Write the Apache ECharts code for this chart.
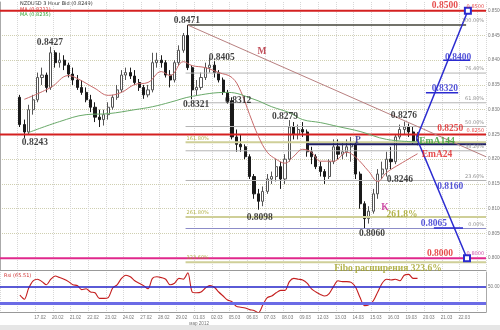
<!DOCTYPE html>
<html>
<head>
<meta charset="utf-8">
<script src="https://cdn.jsdelivr.net/npm/echarts@6/dist/echarts.min.js"></script>
<style>
html, body { margin: 0; padding: 0; background: #fff; }
#chart { width: 500px; height: 330px; }
</style>
</head>
<body>
<div id="chart"></div>
<script>
// trading days on the axis, 4 bars (6 hours) each
var days = ['15.02', '16.02', '17.02', '20.02', '21.02', '22.02', '23.02', '24.02', '27.02', '28.02',
  '29.02', '01.03', '02.03', '05.03', '06.03', '07.03', '08.03', '09.03', '12.03', '13.03',
  '14.03', '15.03', '16.03', '19.03', '20.03', '21.03', '22.03', '23.03'];
var barCount = 110;
var firstBar = 4;

// NZD/USD bars
var open = [
  0.8325, 0.8270, 0.8255, 0.8300, 0.8320, 0.8365, 0.8370, 0.8345, 0.8415, 0.8395,
  0.8400, 0.8390, 0.8372, 0.8360, 0.8345, 0.8335, 0.8320, 0.8305, 0.8285, 0.8280,
  0.8290, 0.8305, 0.8325, 0.8340, 0.8370, 0.8375, 0.8368, 0.8355, 0.8345, 0.8330,
  0.8340, 0.8395, 0.8400, 0.8395, 0.8370, 0.8360, 0.8395, 0.8420, 0.8450, 0.8385,
  0.8340, 0.8345, 0.8365, 0.8385, 0.8390, 0.8375, 0.8360, 0.8335, 0.8318, 0.8245,
  0.8230, 0.8225, 0.8205, 0.8165, 0.8130, 0.8115, 0.8135, 0.8160, 0.8165, 0.8185,
  0.8160, 0.8200, 0.8265, 0.8250, 0.8260, 0.8255, 0.8215, 0.8205, 0.8185, 0.8175,
  0.8165, 0.8195, 0.8225, 0.8210, 0.8215, 0.8225, 0.8230, 0.8170, 0.8110, 0.8080,
  0.8095, 0.8130, 0.8170, 0.8180, 0.8200, 0.8195, 0.8245, 0.8260, 0.8265, 0.8255, 0.8235];
var high = [
  0.8330, 0.8280, 0.8310, 0.8330, 0.8375, 0.8385, 0.8375, 0.8427, 0.8420, 0.8415,
  0.8410, 0.8395, 0.8385, 0.8370, 0.8360, 0.8345, 0.8330, 0.8315, 0.8300, 0.8300,
  0.8315, 0.8330, 0.8350, 0.8380, 0.8385, 0.8385, 0.8380, 0.8362, 0.8350, 0.8350,
  0.8415, 0.8415, 0.8410, 0.8400, 0.8380, 0.8400, 0.8430, 0.8455, 0.8471, 0.8390,
  0.8360, 0.8375, 0.8395, 0.8405, 0.8398, 0.8380, 0.8365, 0.8340, 0.8325, 0.8260,
  0.8250, 0.8230, 0.8210, 0.8170, 0.8140, 0.8145, 0.8170, 0.8175, 0.8200, 0.8195,
  0.8210, 0.8279, 0.8275, 0.8270, 0.8275, 0.8260, 0.8225, 0.8210, 0.8195, 0.8180,
  0.8200, 0.8240, 0.8240, 0.8235, 0.8240, 0.8245, 0.8235, 0.8175, 0.8115, 0.8105,
  0.8140, 0.8180, 0.8195, 0.8215, 0.8225, 0.8250, 0.8270, 0.8276, 0.8272, 0.8265, 0.8255];
var low = [
  0.8265, 0.8243, 0.8250, 0.8290, 0.8315, 0.8350, 0.8335, 0.8340, 0.8385, 0.8385,
  0.8380, 0.8365, 0.8350, 0.8340, 0.8330, 0.8315, 0.8295, 0.8275, 0.8265, 0.8268,
  0.8280, 0.8300, 0.8320, 0.8335, 0.8360, 0.8362, 0.8350, 0.8338, 0.8322, 0.8325,
  0.8335, 0.8385, 0.8385, 0.8365, 0.8345, 0.8355, 0.8390, 0.8415, 0.8380, 0.8321,
  0.8328, 0.8340, 0.8360, 0.8375, 0.8365, 0.8355, 0.8330, 0.8312, 0.8240, 0.8215,
  0.8215, 0.8200, 0.8160, 0.8120, 0.8098, 0.8105, 0.8130, 0.8150, 0.8155, 0.8140,
  0.8150, 0.8195, 0.8240, 0.8240, 0.8245, 0.8205, 0.8190, 0.8180, 0.8165, 0.8150,
  0.8160, 0.8190, 0.8200, 0.8200, 0.8205, 0.8195, 0.8160, 0.8100, 0.8060, 0.8070,
  0.8090, 0.8120, 0.8160, 0.8165, 0.8180, 0.8190, 0.8240, 0.8250, 0.8245, 0.8230, 0.8228];
var close = [
  0.8270, 0.8255, 0.8300, 0.8320, 0.8365, 0.8370, 0.8345, 0.8415, 0.8395, 0.8400,
  0.8390, 0.8372, 0.8360, 0.8345, 0.8335, 0.8320, 0.8305, 0.8285, 0.8280, 0.8290,
  0.8305, 0.8325, 0.8340, 0.8370, 0.8375, 0.8368, 0.8355, 0.8345, 0.8330, 0.8340,
  0.8395, 0.8400, 0.8395, 0.8370, 0.8360, 0.8395, 0.8420, 0.8450, 0.8385, 0.8340,
  0.8345, 0.8365, 0.8385, 0.8390, 0.8375, 0.8360, 0.8335, 0.8318, 0.8245, 0.8230,
  0.8225, 0.8205, 0.8165, 0.8130, 0.8115, 0.8135, 0.8160, 0.8165, 0.8185, 0.8160,
  0.8200, 0.8265, 0.8250, 0.8260, 0.8255, 0.8215, 0.8205, 0.8185, 0.8175, 0.8165,
  0.8195, 0.8225, 0.8210, 0.8215, 0.8225, 0.8230, 0.8170, 0.8110, 0.8080, 0.8095,
  0.8130, 0.8170, 0.8180, 0.8200, 0.8195, 0.8245, 0.8260, 0.8265, 0.8255, 0.8235, 0.8249];

// moving averages: [bar, value]
var ema24 = [[5, 0.8321], [11, 0.8345], [15, 0.8369], [17, 0.8363], [21, 0.8343], [24, 0.8329],
  [27, 0.8335], [30, 0.8351], [33, 0.8355], [36, 0.8377], [38, 0.8369], [41, 0.8397], [43, 0.8389],
  [46, 0.8385], [49, 0.8375], [52, 0.8365], [54, 0.8337], [56, 0.8290], [58, 0.8246], [60, 0.8214],
  [62, 0.8200], [64, 0.8192], [66, 0.8206], [68, 0.8220], [70, 0.8214], [72, 0.8196], [75, 0.8196],
  [78, 0.8214], [80, 0.8204], [83, 0.8175], [85, 0.8155], [87, 0.8173], [90, 0.8190], [94, 0.8211]];
var ema144 = [[6, 0.8254], [13, 0.8276], [19, 0.8290], [24, 0.8292], [30, 0.8300], [34, 0.8306],
  [38, 0.8315], [43, 0.8327], [51, 0.8335], [57, 0.8321], [61, 0.8306], [65, 0.8294], [68, 0.8280],
  [72, 0.8274], [76, 0.8266], [81, 0.8256], [87, 0.8240], [94, 0.8235]];

// RSI, one value per bar
var rsi = [
  40, 35, 49, 58, 60, 57, 53, 60, 64, 62, 60, 57, 53, 52, 47, 48, 44, 43, 36, 36,
  37, 49, 53, 61, 65, 63, 58, 55, 52, 48, 61, 63, 62, 60, 53, 55, 61, 60, 68, 44,
  43, 44, 49, 52, 50, 44, 39, 34, 32, 26, 25, 24, 22, 21, 18, 28, 37, 39, 43, 46,
  46, 57, 61, 60, 59, 55, 48, 44, 41, 39, 42, 51, 58, 57, 57, 56, 50, 37, 27, 28,
  33, 44, 55, 60, 59, 60, 58, 65, 66, 61, 61];

var priceTicks = [0.8000, 0.8050, 0.8100, 0.8150, 0.8200, 0.8250, 0.8300, 0.8350, 0.8400, 0.8450, 0.8500];
var rsiTicks = [50];

// horizontal levels: [from bar, to bar, price, kind]
var levels = [
  [0, 110, 0.8500, 'red'], [0, 110, 0.8250, 'red'], [0, 110, 0.8000, 'magenta'],
  [42.5, 105.5, 0.8471, 'dark'],
  [42, 110, 0.8374, 'fib'], [42, 110, 0.8314, 'fib'], [42, 110, 0.8266, 'fib'],
  [42, 110, 0.8217, 'fib'], [42, 110, 0.8157, 'fib'], [42, 110, 0.8060, 'fib0'],
  [42, 110, 0.8234, 'ext'], [42, 110, 0.8083, 'ext'], [42, 110, 0.7992, 'ext'],
  [69.5, 110, 0.8230, 'navy'],
  [100.3, 106.4, 0.8400, 'blue'], [96.4, 103.7, 0.8334, 'blue'], [98.2, 104.8, 0.8061, 'blue']
];
// sloped lines: [bar0, price0, bar1, price1, kind, end marker]
var trends = [
  [42.5, 0.8471, 110, 0.8205, 'rose', false],
  [94.3, 0.8243, 105.9, 0.8500, 'blue', true],
  [94.3, 0.8243, 105.7, 0.8000, 'blue', true]
];
// chart notes: [bar, price, text, kind]
var notes = [
  [11.3, 0.8435, '0.8427', 'black'], [7.9, 0.8233, '0.8243', 'black'],
  [42.3, 0.8481, '0.8471', 'black'], [50.2, 0.8406, '0.8405', 'black'],
  [44.4, 0.8311, '0.8321', 'black'], [53.9, 0.8318, '0.8312', 'black'],
  [59.3, 0.8417, 'M', 'darkred'], [64.5, 0.8287, '0.8279', 'black'],
  [58.8, 0.8083, '0.8098', 'black'], [81.0, 0.8237, 'P', 'navy'],
  [91.4, 0.8289, '0.8276', 'black'], [90.5, 0.8158, '0.8246', 'black'],
  [87.1, 0.8103, 'K', 'magenta'], [91.0, 0.8089, '261.8%', 'olive'],
  [84.2, 0.8049, '0.8060', 'black'], [100.7, 0.8510, '0.8500', 'red'],
  [103.7, 0.8406, '0.8400', 'blue'], [100.7, 0.8342, '0.8320', 'blue'],
  [101.9, 0.8261, '0.8250', 'red'], [98.9, 0.8235, 'EmA144', 'green'],
  [98.9, 0.8210, 'EmA24', 'red'], [101.9, 0.8144, '0.8160', 'blue'],
  [98.2, 0.8069, '0.8065', 'blue'], [99.6, 0.8010, '0.8000', 'red'],
  [87.8, 0.7980, 'Fibo расширения 323.6%', 'olive']
];
// small tags sitting on the level lines: [bar, price, text, side, kind]
var tags = [
  [109.8, 0.8471, '100.00%', 'end', 'gray'], [109.8, 0.8374, '76.40%', 'end', 'gray'],
  [109.8, 0.8314, '61.80%', 'end', 'gray'], [109.8, 0.8266, '50.00%', 'end', 'gray'],
  [109.8, 0.8217, '38.20%', 'end', 'gray'], [109.8, 0.8157, '23.60%', 'end', 'gray'],
  [109.8, 0.8060, '0.00%', 'end', 'gray'],
  [42, 0.8234, '161.80%', 'start', 'olive'], [42, 0.8083, '261.80%', 'start', 'olive'],
  [42, 0.7992, '323.60%', 'start', 'olive'],
  [109.8, 0.8500, '0.8500', 'end', 'red'], [109.8, 0.8250, '0.8250', 'end', 'red'],
  [109.8, 0.8000, '0.8000', 'end', 'magenta']
];

var lineStyles = {
  red: { color: '#d42020', width: 2 },
  magenta: { color: '#e0288c', width: 2 },
  dark: { color: '#45453a', width: 1.5 },
  fib: { color: '#b4b4b4', width: 1 },
  fib0: { color: '#8c8cc8', width: 1.2 },
  ext: { color: '#cfcf98', width: 2 },
  navy: { color: '#1e1e62', width: 2 },
  blue: { color: '#2a2ad0', width: 1.5 },
  rose: { color: '#b88080', width: 1 }
};
var textColors = {
  black: '#111', darkred: '#b02030', navy: '#202080', magenta: '#c02090', olive: '#a0a020',
  red: '#e02020', blue: '#2a2ad0', green: '#2f9a2f', gray: '#777'
};

var cats = [];
days.forEach(function (d) {
  [0, 6, 12, 18].forEach(function (h) { cats.push(d + ' ' + h); });
});
cats = cats.slice(0, barCount);

var candleData = [], rsiData = [];
for (var i = 0; i < barCount; i++) {
  var k = i - firstBar;
  if (k >= 0 && k < open.length) {
    candleData.push([open[k], close[k], low[k], high[k]]);
    rsiData.push(rsi[k]);
  } else {
    candleData.push('-');
    rsiData.push('-');
  }
}
function dayStart(idx) { return idx % 4 === 0; }
function dayLabel(idx) { return idx % 4 === 0 && idx >= 8 && idx <= 104; }

var series = [{
  type: 'candlestick', xAxisIndex: 0, yAxisIndex: 0, data: candleData, barWidth: 2.6, z: 2,
  itemStyle: { color: '#fff', color0: '#1a1a1a', borderColor: '#555', borderColor0: '#1a1a1a', borderWidth: 1 }
}];
levels.forEach(function (l) {
  series.push({
    type: 'line', xAxisIndex: 1, yAxisIndex: 0, symbol: 'none', silent: true, z: 3,
    data: [[l[0], l[2]], [l[1], l[2]]], lineStyle: lineStyles[l[3]]
  });
});
trends.forEach(function (t) {
  series.push({
    type: 'line', xAxisIndex: 1, yAxisIndex: 0, silent: true, z: 4, showSymbol: true,
    data: [{ value: [t[0], t[1]], symbol: 'none' },
      { value: [t[2], t[3]], symbol: t[5] ? 'rect' : 'none', symbolSize: 6 }],
    lineStyle: lineStyles[t[4]],
    itemStyle: { color: '#fff', borderColor: lineStyles[t[4]].color, borderWidth: 2 }
  });
});
[[ema24, '#c86a6a'], [ema144, '#6aaa6a']].forEach(function (m) {
  series.push({
    type: 'line', xAxisIndex: 1, yAxisIndex: 0, symbol: 'none', smooth: 0.4, silent: true, z: 3,
    data: m[0].map(function (p) { return [p[0] + 0.5, p[1]]; }),
    lineStyle: { color: m[1], width: 1 }
  });
});
series.push({
  type: 'scatter', xAxisIndex: 1, yAxisIndex: 0, symbolSize: 0, silent: true, z: 6,
  data: notes.map(function (n) {
    return { name: n[2], value: [n[0], n[1]], label: { color: textColors[n[3]] } };
  }),
  label: {
    show: true, position: 'inside', formatter: '{b}',
    fontFamily: 'Liberation Serif', fontWeight: 'bold', fontSize: 9.5
  }
});
series.push({
  type: 'scatter', xAxisIndex: 1, yAxisIndex: 0, symbolSize: 0, silent: true, z: 6,
  data: tags.map(function (t) {
    return {
      name: t[2], value: [t[0], t[1]],
      label: { color: textColors[t[4]], position: t[3] === 'end' ? 'left' : 'right' }
    };
  }),
  label: {
    show: true, formatter: '{b}', distance: 1, offset: [0, -4],
    fontFamily: 'DejaVu Sans', fontSize: 5
  }
});
series.push({
  type: 'line', xAxisIndex: 2, yAxisIndex: 1, data: rsiData, symbol: 'none', smooth: 0.3,
  lineStyle: { color: '#c41e1e', width: 1.1 }, silent: true, z: 4,
  markLine: {
    silent: true, symbol: 'none', label: { show: false },
    data: [
      { yAxis: 50, lineStyle: { color: '#2323c8', width: 1.5, type: 'solid' } },
      { yAxis: 30, lineStyle: { color: '#6b6be6', width: 3, type: 'solid' } }
    ]
  }
});

var axisFont = { fontFamily: 'Liberation Sans', fontSize: 4.6, color: '#777' };
var gridLine = { show: true, lineStyle: { color: '#d8d8d8', type: 'dotted', width: 1 } };

var option = {
  animation: false,
  backgroundColor: '#fff',
  grid: [
    { left: 0, right: 14, top: 2, height: 268, outerBoundsMode: 'none' },
    { left: 0, right: 14, top: 272, height: 40, outerBoundsMode: 'none' }
  ],
  xAxis: [
    {
      type: 'category', gridIndex: 0, data: cats, boundaryGap: true,
      axisLine: { show: true, lineStyle: { color: '#999' } }, axisTick: { show: false },
      axisLabel: { show: false },
      splitLine: Object.assign({ interval: dayStart }, gridLine)
    },
    { type: 'value', gridIndex: 0, min: 0, max: barCount, show: false },
    {
      type: 'category', gridIndex: 1, data: cats, boundaryGap: true,
      axisLine: { show: true, lineStyle: { color: '#999' } }, axisTick: { show: false },
      axisLabel: Object.assign({
        interval: dayLabel, margin: 3, padding: [0, 0, 0, 5], lineHeight: 6,
        formatter: function (v) {
          var d = v.split(' ')[0];
          return d === '01.03' ? d + '\nмар 2012' : d;
        }
      }, axisFont),
      splitLine: Object.assign({ interval: dayStart }, gridLine)
    }
  ],
  yAxis: [
    {
      type: 'value', gridIndex: 0, position: 'right', min: 0.797616, max: 0.851758,
      axisLine: { show: true, lineStyle: { color: '#aaa' } },
      axisTick: { show: false, customValues: priceTicks },
      axisLabel: Object.assign({
        customValues: priceTicks, margin: 2,
        formatter: function (v) { return v.toFixed(4); }
      }, axisFont),
      splitLine: { show: true, lineStyle: { color: '#cfcfb0', type: 'dotted', width: 1 } }
    },
    {
      type: 'value', gridIndex: 1, position: 'right', min: 19, max: 69,
      axisLine: { show: true, lineStyle: { color: '#aaa' } },
      axisTick: { show: false, customValues: rsiTicks },
      axisLabel: Object.assign({
        customValues: rsiTicks, margin: 2,
        formatter: function (v) { return v.toFixed(2); }
      }, axisFont),
      splitLine: { show: false }
    }
  ],
  graphic: [
    { type: 'text', left: 20, top: 1, style: { text: 'NZDUSD 3 Hour Bid (0.8249)', fill: '#333', font: '5px DejaVu Sans' } },
    { type: 'text', left: 20, top: 7, style: { text: 'MA (0.8211)', fill: '#d03030', font: '5px DejaVu Sans' } },
    { type: 'text', left: 20, top: 12, style: { text: 'MA (0.8235)', fill: '#30a030', font: '5px DejaVu Sans' } },
    { type: 'text', left: 4, top: 273, style: { text: 'Rsi (65.51)', fill: '#d03030', font: '5px DejaVu Sans' } },
    { type: 'rect', left: 0, top: 325, shape: { width: 500, height: 5 }, style: { fill: '#e6e6e6' } }
  ],
  series: series
};

var chart = echarts.init(document.getElementById('chart'));
chart.setOption(option);
</script>
</body>
</html>
